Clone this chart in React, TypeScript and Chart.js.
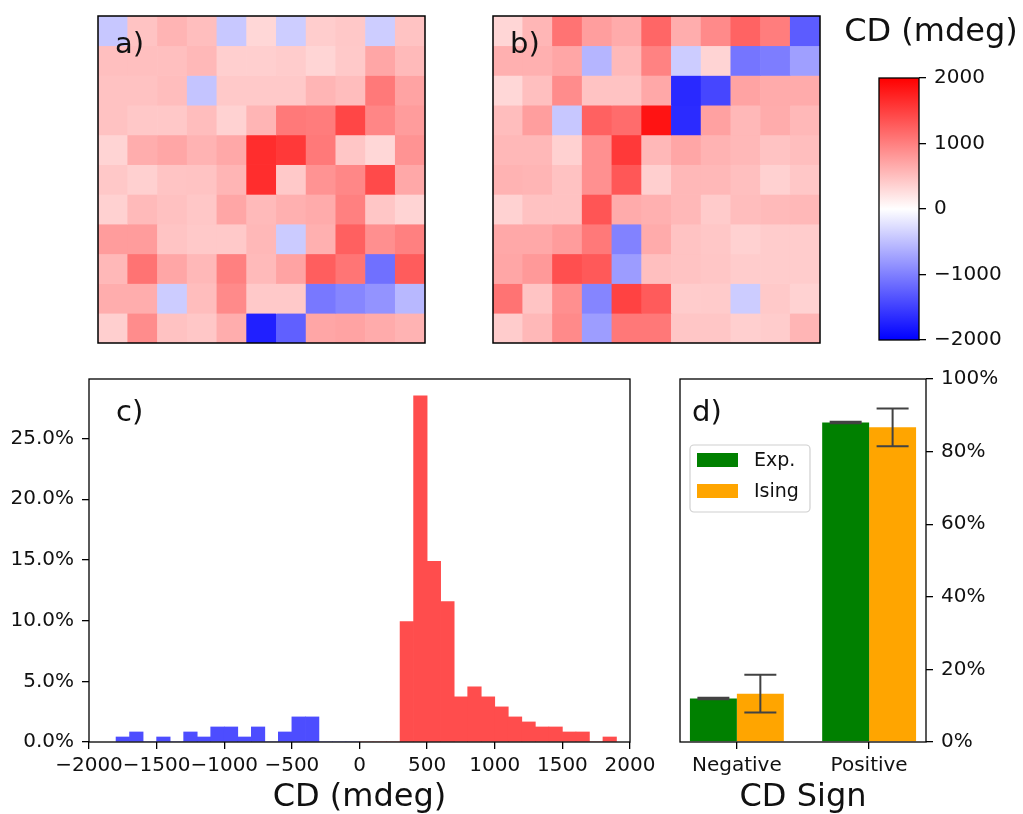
import React, { useEffect, useRef } from "react";
import { Chart, registerables } from "chart.js";
Chart.register(...registerables);

const W = 1023;
const H = 814;
const FONT = "'DejaVu Sans', sans-serif";
const TEXT = "#111";

// ---- a) heatmap (CD in mdeg), top row first ----
const heatmapA: number[][] = [
  [-440, 470, 590, 510, -430, 310, -390, 390, 430, -390, 470],
  [500, 500, 500, 560, 380, 380, 400, 330, 420, 700, 540],
  [480, 480, 520, -460, 420, 420, 420, 580, 520, 1050, 720],
  [480, 430, 430, 520, 350, 580, 1050, 1030, 1450, 950, 780],
  [340, 640, 700, 600, 680, 1650, 1550, 1050, 450, 310, 850],
  [430, 370, 460, 470, 580, 1650, 420, 850, 940, 1420, 680],
  [360, 540, 490, 440, 700, 540, 620, 660, 1000, 450, 340],
  [780, 780, 460, 420, 420, 560, -410, 620, 1250, 880, 1000],
  [560, 1100, 700, 560, 1000, 540, 720, 1260, 1080, -1120, 1280],
  [640, 640, -400, 520, 920, 420, 420, -1060, -950, -850, -560],
  [380, 900, 480, 440, 640, -1750, -1250, 700, 720, 660, 600],
];

// ---- b) heatmap (CD in mdeg), top row first ----
const heatmapB: number[][] = [
  [320, 570, 1100, 760, 660, 1200, 640, 920, 1220, 1020, -1280],
  [620, 620, 700, -580, 550, 980, -400, 340, -1080, -1020, -750],
  [310, 500, 900, 470, 470, 680, -1680, -1450, 720, 660, 660],
  [520, 760, -440, 1240, 1150, 1850, -1660, 740, 560, 650, 560],
  [560, 560, 360, 870, 1550, 560, 700, 600, 560, 470, 510],
  [600, 580, 480, 870, 1320, 380, 560, 560, 500, 360, 440],
  [350, 480, 480, 1330, 660, 620, 560, 410, 520, 540, 560],
  [680, 680, 780, 1050, -980, 660, 470, 440, 360, 400, 400],
  [700, 800, 1380, 1300, -780, 500, 470, 450, 400, 400, 400],
  [1100, 460, 880, -960, 1480, 1290, 400, 410, -400, 420, 350],
  [400, 560, 920, -770, 1060, 1060, 450, 450, 380, 400, 580],
];

// ---- colorbar ----
const colorbarMin = -2000;
const colorbarMax = 2000;
const colorbarTicks = [-2000, -1000, 0, 1000, 2000];

// ---- c) histogram: bin left edges (mdeg) and counts (out of 242 cells) ----
const histBinWidth = 100;
const histBinLeft = [
  -1800, -1700, -1600, -1500, -1400, -1300, -1200, -1100, -1000, -900, -800, -700, -600, -500, -400, -300, -200, -100,
  0, 100, 200, 300, 400, 500, 600, 700, 800, 900, 1000, 1100, 1200, 1300, 1400, 1500, 1600, 1700, 1800,
];
const histCounts = [
  1, 2, 0, 1, 0, 2, 1, 3, 3, 1, 3, 0, 2, 5, 5, 0, 0, 0,
  0, 0, 0, 24, 69, 36, 28, 9, 11, 9, 7, 5, 4, 3, 3, 2, 2, 0, 1,
];
const histTotal = 242;
const histXTicks = [-2000, -1500, -1000, -500, 0, 500, 1000, 1500, 2000];
const histYTicks = [0, 5, 10, 15, 20, 25];
const histYMax = 29.9;

// ---- d) CD sign fractions ----
const signCategories = ["Negative", "Positive"];
const expPercent = [12.0, 88.0];
const expError = [0.2, 0.2];
const isingPercent = [13.3, 86.7];
const isingError = [5.2, 5.2];
const signYTicks = [0, 20, 40, 60, 80, 100];

Chart.defaults.font.family = FONT;
Chart.defaults.color = TEXT;

const fmtMinus = (v: number) => (v < 0 ? "\u2212" + Math.abs(v) : String(v));

function bwr(v: number): string {
  const t = Math.max(-1, Math.min(1, v / 2000));
  if (t >= 0) {
    const g = Math.round(255 * (1 - t));
    return `rgb(255,${g},${g})`;
  }
  const g = Math.round(255 * (1 + t));
  return `rgb(${g},${g},255)`;
}

type Area = { left: number; top: number; right: number; bottom: number };

const framePlugin = (lw = 1.5) => ({
  id: "frame",
  afterDraw(chart: any) {
    const { ctx, chartArea } = chart;
    const { left, top, right, bottom } = chartArea;
    ctx.save();
    ctx.strokeStyle = "#000";
    ctx.lineWidth = lw;
    ctx.strokeRect(left, top, right - left, bottom - top);
    ctx.restore();
  },
});

const textPlugin = (text: string, dx: number, dy: number, size: number, align: CanvasTextAlign = "left") => ({
  id: "panelText",
  afterDraw(chart: any) {
    const { ctx, chartArea } = chart;
    ctx.save();
    ctx.fillStyle = TEXT;
    ctx.font = `${size}px ${FONT}`;
    ctx.textAlign = align;
    ctx.textBaseline = "alphabetic";
    ctx.fillText(text, chartArea.left + dx, chartArea.top + dy);
    ctx.restore();
  },
});

const pad = (a: Area, extra: Partial<Area> = {}) => ({
  left: a.left - (extra.left || 0),
  top: a.top - (extra.top || 0),
  right: W - a.right - (extra.right || 0),
  bottom: H - a.bottom - (extra.bottom || 0),
});

const baseOptions = {
  responsive: false,
  animation: false as const,
  devicePixelRatio: 1,
};

const tickGrid = { drawOnChartArea: false, drawTicks: true, tickLength: 7, color: "#000", lineWidth: 1.3 };
const tickFont = { size: 20, family: FONT };
const titleFont = { size: 32, family: FONT, lineHeight: 1 };

function heatmapConfig(values: number[][], area: Area, label: string) {
  const rows = values.length;
  return {
    type: "bar",
    data: {
      labels: values[0].map((_, i) => String(i)),
      datasets: values.map((row, r) => ({
        data: row.map(() => [rows - 1 - r, rows - r]),
        backgroundColor: row.map(bwr),
        borderWidth: 0,
        grouped: false,
        barPercentage: 1,
        categoryPercentage: 1,
      })),
    },
    options: {
      ...baseOptions,
      layout: { padding: pad(area) },
      plugins: { legend: { display: false }, tooltip: { enabled: false } },
      scales: {
        x: { display: false },
        y: { display: false, min: 0, max: rows },
      },
    },
    plugins: [framePlugin(1.5), textPlugin(label, 17, 37, 29)],
  };
}

function colorbarConfig() {
  const area: Area = { left: 879, top: 78, right: 919, bottom: 340 };
  return {
    type: "bar",
    data: {
      labels: ["cbar"],
      datasets: [
        {
          data: [[colorbarMin, colorbarMax]],
          backgroundColor: (c: any) => {
            const chart = c.chart;
            const ys = chart.scales && chart.scales.y;
            if (!ys || !chart.chartArea) return "#fff";
            const y0 = ys.getPixelForValue(colorbarMin);
            const y1 = ys.getPixelForValue(colorbarMax);
            if (!isFinite(y0) || !isFinite(y1) || y0 === y1) return "#fff";
            const g = chart.ctx.createLinearGradient(0, y0, 0, y1);
            g.addColorStop(0, bwr(colorbarMin));
            g.addColorStop(0.5, bwr(0));
            g.addColorStop(1, bwr(colorbarMax));
            return g;
          },
          borderWidth: 0,
          barPercentage: 1,
          categoryPercentage: 1,
        },
      ],
    },
    options: {
      ...baseOptions,
      layout: { padding: pad(area, { right: 100 }) },
      plugins: { legend: { display: false }, tooltip: { enabled: false } },
      scales: {
        x: { display: false },
        y: {
          position: "right",
          min: colorbarMin,
          max: colorbarMax,
          afterBuildTicks: (s: any) => {
            s.ticks = colorbarTicks.map((v) => ({ value: v }));
          },
          afterFit: (s: any) => {
            s.width = 100;
          },
          ticks: { font: tickFont, color: TEXT, padding: 8, callback: (v: any) => fmtMinus(Number(v)) },
          grid: tickGrid,
          border: { display: false },
        },
      },
    },
    plugins: [framePlugin(1.3), textPlugin("CD (mdeg)", 52, -37, 32, "center")],
  };
}

function histogramConfig() {
  const area: Area = { left: 89, top: 379, right: 630, bottom: 742 };
  return {
    type: "bar",
    data: {
      datasets: [
        {
          data: histBinLeft.map((l, i) => ({ x: l + histBinWidth / 2, y: (histCounts[i] / histTotal) * 100 })),
          // blue / red at 70% opacity over white
          backgroundColor: histBinLeft.map((l) => (l < 0 ? "rgb(77,77,255)" : "rgb(255,77,77)")),
          borderWidth: 0,
          barPercentage: 1,
          categoryPercentage: 1,
        },
      ],
    },
    options: {
      ...baseOptions,
      layout: { padding: pad(area, { left: 80, bottom: 72 }) },
      plugins: { legend: { display: false }, tooltip: { enabled: false } },
      scales: {
        x: {
          type: "linear",
          offset: false,
          min: histXTicks[0],
          max: histXTicks[histXTicks.length - 1],
          afterBuildTicks: (s: any) => {
            s.ticks = histXTicks.map((v) => ({ value: v }));
          },
          afterFit: (s: any) => {
            s.height = 72;
          },
          ticks: { font: tickFont, color: TEXT, padding: 5, autoSkip: false, maxRotation: 0, minRotation: 0, callback: (v: any) => fmtMinus(Number(v)) },
          grid: { ...tickGrid, offset: false },
          border: { display: false },
          title: { display: true, text: "CD (mdeg)", font: titleFont, color: TEXT, padding: 0 },
        },
        y: {
          min: 0,
          max: histYMax,
          afterBuildTicks: (s: any) => {
            s.ticks = histYTicks.map((v) => ({ value: v }));
          },
          afterFit: (s: any) => {
            s.width = 80;
          },
          ticks: { font: tickFont, color: TEXT, padding: 8, callback: (v: any) => Number(v).toFixed(1) + "%" },
          grid: tickGrid,
          border: { display: false },
        },
      },
    },
    plugins: [framePlugin(1.3), textPlugin("c)", 27, 42, 29)],
  };
}

const errorBarPlugin = {
  id: "errorBars",
  afterDatasetsDraw(chart: any) {
    const { ctx } = chart;
    const ys = chart.scales.y;
    const sets = [
      { vals: expPercent, errs: expError },
      { vals: isingPercent, errs: isingError },
    ];
    ctx.save();
    ctx.strokeStyle = "#424242";
    ctx.lineWidth = 2;
    sets.forEach((s, d) => {
      const meta = chart.getDatasetMeta(d);
      meta.data.forEach((bar: any, i: number) => {
        const x = bar.x;
        const yLo = ys.getPixelForValue(s.vals[i] - s.errs[i]);
        const yHi = ys.getPixelForValue(s.vals[i] + s.errs[i]);
        const cap = 16;
        ctx.beginPath();
        ctx.moveTo(x, yLo);
        ctx.lineTo(x, yHi);
        ctx.moveTo(x - cap, yLo);
        ctx.lineTo(x + cap, yLo);
        ctx.moveTo(x - cap, yHi);
        ctx.lineTo(x + cap, yHi);
        ctx.stroke();
      });
    });
    ctx.restore();
  },
};

const boxLegendPlugin = {
  id: "boxLegend",
  afterDraw(chart: any) {
    const { ctx, chartArea } = chart;
    const x0 = chartArea.left + 10;
    const y0 = chartArea.top + 66;
    const w = 120;
    const h = 67;
    ctx.save();
    ctx.beginPath();
    if ((ctx as any).roundRect) (ctx as any).roundRect(x0, y0, w, h, 4);
    else ctx.rect(x0, y0, w, h);
    ctx.fillStyle = "rgba(255,255,255,0.8)";
    ctx.fill();
    ctx.strokeStyle = "#d0d0d0";
    ctx.lineWidth = 1.2;
    ctx.stroke();
    chart.data.datasets.forEach((ds: any, i: number) => {
      const py = y0 + 8 + i * 31;
      ctx.fillStyle = ds.backgroundColor;
      ctx.fillRect(x0 + 7, py, 41, 14);
      ctx.fillStyle = TEXT;
      ctx.font = `19px ${FONT}`;
      ctx.textBaseline = "middle";
      ctx.textAlign = "left";
      ctx.fillText(ds.label, x0 + 64, py + 8);
    });
    ctx.restore();
  },
};

function signConfig() {
  const area: Area = { left: 680, top: 379, right: 926, bottom: 742 };
  return {
    type: "bar",
    data: {
      datasets: [
        {
          label: "Exp.",
          data: signCategories.map((_, i) => ({ x: i, y: expPercent[i] })),
          backgroundColor: "#008000",
        },
        {
          label: "Ising",
          data: signCategories.map((_, i) => ({ x: i, y: isingPercent[i] })),
          backgroundColor: "#ffa500",
        },
      ],
    },
    options: {
      ...baseOptions,
      layout: { padding: pad(area, { right: 97, bottom: 72 }) },
      datasets: { bar: { barPercentage: 1, categoryPercentage: 0.71, borderWidth: 0 } },
      plugins: { legend: { display: false }, tooltip: { enabled: false } },
      scales: {
        x: {
          type: "linear",
          offset: false,
          min: -0.43,
          max: signCategories.length - 1 + 0.43,
          afterBuildTicks: (s: any) => {
            s.ticks = signCategories.map((_, i) => ({ value: i }));
          },
          afterFit: (s: any) => {
            s.height = 72;
          },
          ticks: { font: tickFont, color: TEXT, padding: 5, autoSkip: false, maxRotation: 0, callback: (v: any) => signCategories[Number(v)] },
          grid: { ...tickGrid, offset: false },
          border: { display: false },
          title: { display: true, text: "CD Sign", font: titleFont, color: TEXT, padding: 0 },
        },
        y: {
          position: "right",
          min: 0,
          max: 100,
          afterBuildTicks: (s: any) => {
            s.ticks = signYTicks.map((v) => ({ value: v }));
          },
          afterFit: (s: any) => {
            s.width = 97;
          },
          ticks: { font: tickFont, color: TEXT, padding: 8, callback: (v: any) => v + "%" },
          grid: tickGrid,
          border: { display: false },
        },
      },
    },
    plugins: [errorBarPlugin, boxLegendPlugin, framePlugin(1.3), textPlugin("d)", 12, 42, 29)],
  };
}

function ChartCanvas({ make }: { make: () => any }) {
  const ref = useRef<HTMLCanvasElement>(null);
  useEffect(() => {
    const chart = new Chart(ref.current as HTMLCanvasElement, make());
    return () => chart.destroy();
  }, []);
  return (
    <canvas
      ref={ref}
      width={W}
      height={H}
      style={{ position: "absolute", left: 0, top: 0, width: W, height: H }}
    />
  );
}

export default function App() {
  return (
    <div style={{ position: "absolute", left: 0, top: 0, width: W, height: H, overflow: "hidden", background: "#fff" }}>
      <ChartCanvas make={() => heatmapConfig(heatmapA, { left: 98, top: 16, right: 425, bottom: 343 }, "a)")} />
      <ChartCanvas make={() => heatmapConfig(heatmapB, { left: 493, top: 16, right: 820, bottom: 343 }, "b)")} />
      <ChartCanvas make={colorbarConfig} />
      <ChartCanvas make={histogramConfig} />
      <ChartCanvas make={signConfig} />
    </div>
  );
}
